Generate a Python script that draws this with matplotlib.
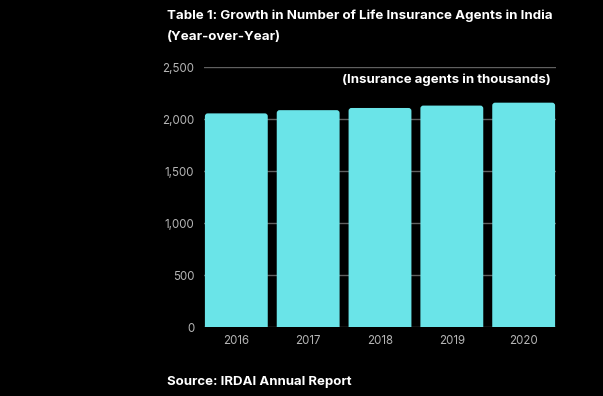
import matplotlib
matplotlib.use("Agg")
import matplotlib.pyplot as plt
from matplotlib.patches import FancyBboxPatch
from matplotlib.ticker import FuncFormatter

years = ["2016", "2017", "2018", "2019", "2020"]
agents = [2054, 2085, 2106, 2129, 2157]
title_line1 = "Table 1: Growth in Number of Life Insurance Agents in India"
title_line2 = "(Year-over-Year)"
unit_note = "(Insurance agents in thousands)"
source = "Source: IRDAI Annual Report"

plt.rcParams['font.family'] = ['Inter', 'DejaVu Sans']
W, H = 603, 396
fig = plt.figure(figsize=(W/100, H/100), dpi=100, facecolor="black")
ax = fig.add_axes([204/W, 1-327/H, (556-204)/W, (327-67)/H])
ax.set_facecolor("black")

bar_color = "#6ae4e8"
x = list(range(len(years)))
bars = ax.bar(x, agents, width=0.875, color=bar_color, zorder=2)
ax.set_xlim(-0.45, 4.45)
ax.set_ylim(0, 2500)

# replace bars with rounded-top versions
ypp = 2500/260.0
xpp = 4.9/352.0
aspect = ypp/xpp
for b in bars:
    x0, w, h = b.get_x(), b.get_width(), b.get_height()
    b.set_visible(False)
    p = FancyBboxPatch((x0, -60), w, h + 60,
                       boxstyle="round,pad=0,rounding_size=0.04",
                       mutation_aspect=aspect, facecolor=bar_color,
                       edgecolor="none", zorder=2)
    ax.add_patch(p)

ax.set_yticks([0, 500, 1000, 1500, 2000, 2500])
ax.yaxis.set_major_formatter(FuncFormatter(lambda v, p: f"{int(v):,}"))
ax.set_xticks(x)
ax.set_xticklabels(years)
ax.grid(axis="y", color="#606060", linewidth=1.0, zorder=0)
ax.set_axisbelow(True)
for s in ax.spines.values():
    s.set_visible(False)
ax.tick_params(axis="both", length=0, colors="#b5b5b5", labelsize=8.3)
ax.tick_params(axis="y", pad=7)
ax.tick_params(axis="x", pad=6)

fig.text(167/W, 1-16/H, title_line1, ha="left", va="center", color="white",
         fontsize=9.6, fontweight="bold")
fig.text(167/W, 1-37/H, title_line2, ha="left", va="center", color="white",
         fontsize=9.6, fontweight="bold")
fig.text(551/W, 1-80/H, unit_note, ha="right", va="center", color="white",
         fontsize=9.5, fontweight="bold")
fig.text(167/W, 1-382/H, source, ha="left", va="center", color="white",
         fontsize=9.5, fontweight="bold")

fig.savefig("out.png", dpi=100, facecolor="black")
